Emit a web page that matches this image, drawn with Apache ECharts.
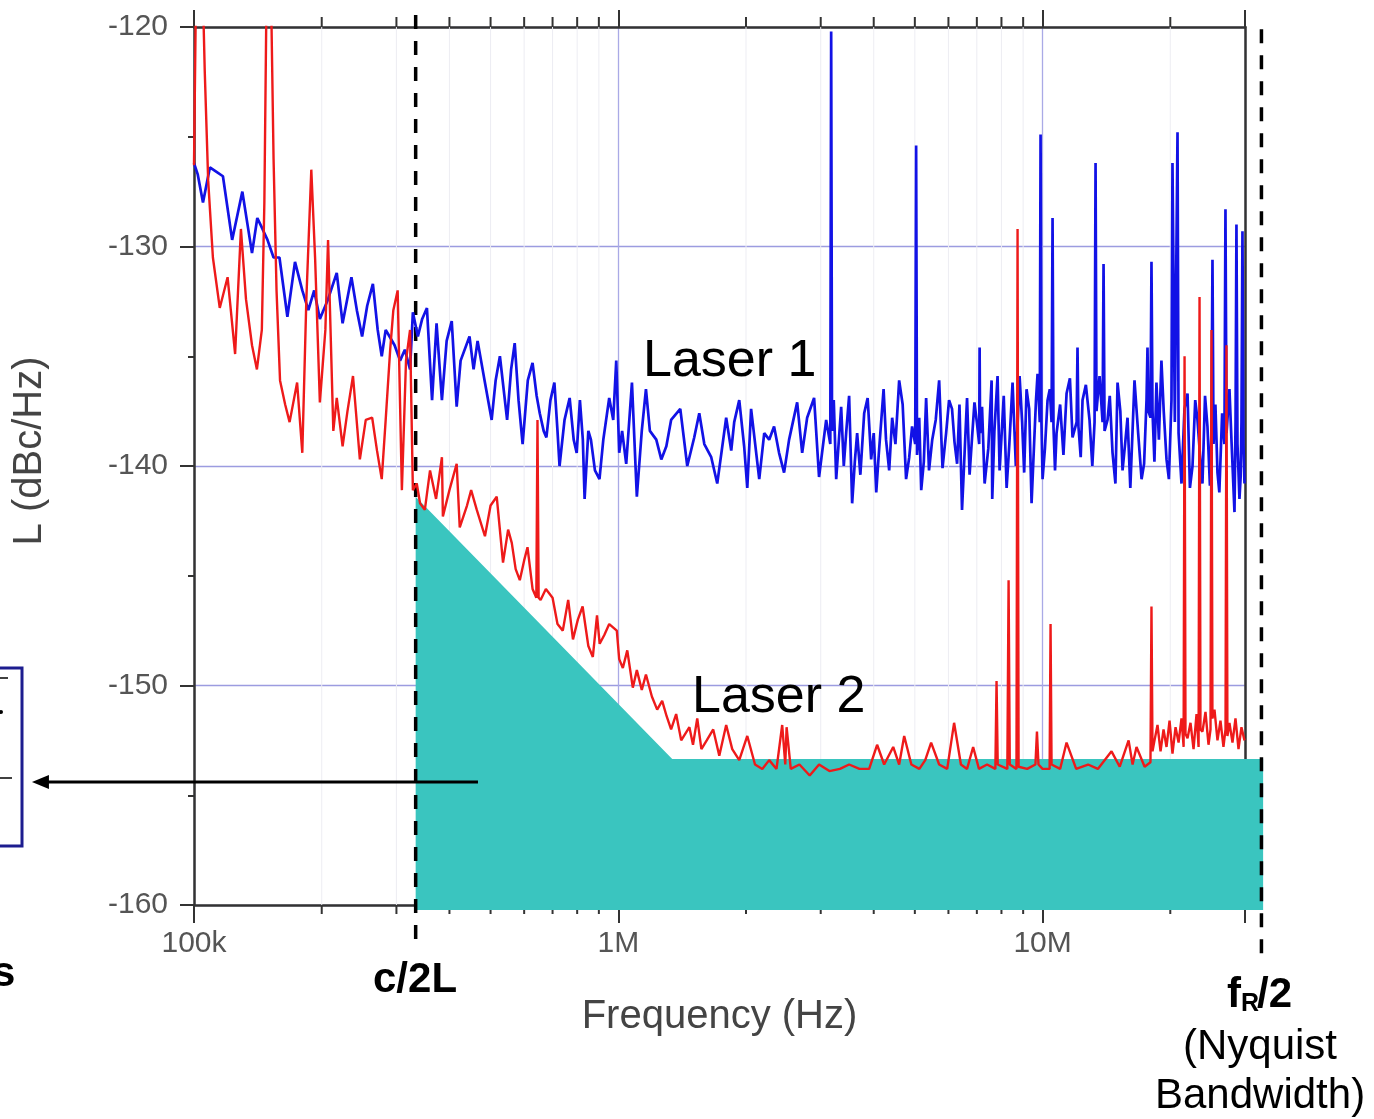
<!DOCTYPE html>
<html>
<head>
<meta charset="utf-8">
<title>Laser phase noise</title>
<script src="https://cdn.jsdelivr.net/npm/echarts@6/dist/echarts.min.js"></script>
<style>
html, body { margin: 0; padding: 0; background: #fff; }
#main { width: 1374px; height: 1119px; }
</style>
</head>
<body>
<div id="main"></div>
<script>
// frequencies in kHz, levels in dBc/Hz
var xTickLabels = { 100: '100k', 1000: '1M', 10000: '10M' };
var xMinorTicks = [200, 300, 400, 500, 600, 700, 800, 900,
    2000, 3000, 4000, 5000, 6000, 7000, 8000, 9000, 20000];

// Laser 1 (blue)
var laser1 = [
    [100,-126.2],[102,-126.7],[105,-128.0],[109,-126.4],[113,-126.6],[117,-126.8],[123,-129.7],[130,-127.5],
    [137,-130.3],[141,-128.7],[145,-129.2],[149,-129.7],[154,-130.5],[159,-130.5],[166,-133.2],[173,-130.7],
    [180,-132.0],[186,-132.9],[192,-132.0],[198,-133.3],[207,-132.4],[217,-131.2],[224,-133.5],[235,-131.4],
    [242,-132.9],[249,-134.1],[256,-132.7],[264,-131.7],[271,-133.8],[277,-135.0],[283,-133.8],[289,-134.1],
    [297,-134.5],[306,-135.2],[314,-134.7],[323,-135.6],[328,-133.0],[337,-134.1],[345,-133.3],[354,-132.8],
    [364,-137.0],[373,-133.5],[384,-137.0],[394,-134.3],[405,-133.4],[416,-137.3],[425,-135.2],[446,-134.1],
    [456,-135.6],[466,-134.3],[484,-136.1],[503,-137.9],[514,-136.1],[526,-135.0],[547,-137.9],[559,-135.6],
    [570,-134.4],[582,-137.0],[595,-139.0],[612,-136.1],[628,-135.3],[642,-136.8],[653,-137.6],[667,-138.4],
    [677,-138.7],[692,-137.0],[707,-136.2],[719,-138.4],[727,-140.0],[747,-137.9],[768,-136.9],[785,-138.8],
    [798,-139.4],[812,-137.0],[825,-138.8],[833,-141.5],[850,-138.4],[862,-138.8],[881,-140.2],[903,-140.6],
    [922,-138.8],[952,-136.9],[973,-137.9],[989,-135.2],[1005,-139.4],[1021,-138.4],[1044,-139.9],[1077,-136.2],
    [1106,-141.4],[1136,-138.4],[1162,-136.5],[1187,-138.4],[1229,-138.8],[1263,-139.7],[1298,-139.1],[1332,-137.9],
    [1400,-137.4],[1454,-140.0],[1510,-138.7],[1552,-137.6],[1595,-139.0],[1656,-139.6],[1711,-140.8],[1796,-137.8],
    [1846,-139.3],[1876,-138.0],[1928,-137.0],[1980,-139.1],[2014,-141.0],[2056,-137.4],[2149,-140.6],[2208,-138.5],
    [2268,-138.8],[2329,-138.2],[2393,-139.4],[2459,-140.3],[2527,-138.8],[2640,-137.1],[2713,-139.4],[2787,-137.8],
    [2894,-136.9],[2973,-140.5],[3090,-137.9],[3160,-139.0],[3175,-120.2],[3190,-138.4],[3220,-137.0],[3263,-140.6],
    [3352,-137.3],[3400,-140.0],[3444,-138.5],[3500,-136.8],[3558,-141.7],[3610,-139.8],[3656,-138.5],[3720,-140.4],
    [3798,-137.6],[3870,-136.9],[3945,-139.7],[4000,-138.5],[4055,-141.2],[4110,-139.5],[4168,-137.9],[4220,-136.5],
    [4276,-138.8],[4350,-140.2],[4421,-137.8],[4500,-139.0],[4592,-136.1],[4680,-137.2],[4768,-140.6],[4850,-139.6],
    [4926,-138.2],[5010,-139.0],[5035,-125.4],[5060,-139.5],[5120,-137.8],[5176,-141.1],[5250,-139.8],[5316,-136.9],
    [5400,-140.2],[5495,-138.8],[5600,-137.9],[5705,-136.1],[5810,-140.1],[5925,-138.5],[6020,-137.0],[6118,-137.4],
    [6200,-138.9],[6289,-139.9],[6370,-137.2],[6459,-142.0],[6550,-139.4],[6638,-136.9],[6730,-140.4],[6821,-138.7],
    [6910,-137.1],[7000,-138.0],[7090,-139.0],[7106,-134.6],[7125,-138.5],[7200,-137.3],[7302,-140.8],[7450,-139.2],
    [7584,-136.1],[7610,-141.5],[7700,-138.4],[7833,-135.9],[7920,-140.2],[8000,-138.7],[8100,-136.8],[8228,-141.0],
    [8350,-139.0],[8497,-136.2],[8650,-140.0],[8828,-135.9],[8950,-138.0],[9050,-140.3],[9168,-136.5],[9300,-137.4],
    [9421,-141.7],[9550,-139.0],[9650,-137.0],[9732,-135.8],[9850,-138.0],[9892,-124.9],[9940,-138.0],[10000,-140.6],
    [10130,-139.2],[10275,-137.0],[10400,-136.5],[10500,-138.0],[10557,-128.7],[10610,-138.2],[10700,-140.2],[10789,-138.5],
    [11000,-137.2],[11200,-139.5],[11391,-136.7],[11600,-136.0],[11766,-138.7],[12030,-138.0],[12088,-134.6],[12150,-138.2],
    [12300,-139.6],[12422,-137.0],[12650,-136.3],[12902,-137.9],[13100,-140.0],[13260,-138.0],[13332,-126.2],[13400,-137.5],
    [13624,-135.9],[13850,-138.0],[13923,-130.8],[14000,-138.4],[14228,-137.9],[14400,-136.8],[14620,-139.4],[14850,-140.8],
    [15022,-136.2],[15250,-137.5],[15435,-140.2],[15650,-139.0],[15858,-137.8],[16100,-141.0],[16470,-136.1],[16800,-138.5],
    [17114,-140.6],[17350,-139.9],[17580,-137.0],[17673,-134.6],[17760,-137.5],[17960,-137.8],[18059,-130.7],[18160,-137.5],
    [18350,-139.8],[18553,-136.2],[18800,-138.8],[19061,-135.2],[19300,-137.5],[19595,-139.7],[19850,-140.6],[20130,-137.0],
    [20239,-126.2],[20500,-138.0],[20800,-124.8],[20920,-138.5],[21255,-140.8],[21600,-137.4],[21962,-136.7],[22250,-141.0],
    [22564,-140.0],[22900,-137.0],[23180,-137.9],[23500,-139.5],[23816,-140.8],[24150,-136.8],[24470,-138.2],[24800,-140.9],
    [25000,-138.5],[25146,-130.6],[25290,-139.0],[25550,-137.2],[25838,-140.3],[26100,-141.2],[26500,-137.6],[26830,-139.0],
    [26982,-128.3],[27140,-138.5],[27572,-136.5],[27900,-139.0],[28336,-142.1],[28500,-138.0],[28640,-129.0],[28800,-139.0],
    [29110,-141.5],[29300,-140.5],[29430,-138.0],[29590,-129.3],[29750,-139.0],[29915,-140.8]
];

// Laser 2 (red)
var laser2 = [
    [100,-126.3],[101,-119],[102.5,-116],[104.5,-117],[106,-122],[108,-127],[110.8,-130.5],[115,-132.8],
    [120,-131.4],[125,-134.9],[129,-129.2],[132.6,-132.4],[137,-134.5],[140.7,-135.6],[144.5,-133.8],[146.5,-128],
    [148.5,-117],[151.5,-117],[154,-126],[156.5,-132],[159.5,-136.1],[164,-137.2],[168,-138.0],[175,-136.2],
    [180,-139.4],[184,-132.4],[189,-126.5],[193,-130.6],[198,-137.1],[204,-133.8],[207,-129.7],[213,-138.4],
    [217,-136.9],[224,-139.1],[230,-137.5],[237,-135.9],[246,-139.7],[254,-137.9],[263,-137.8],[270,-139.3],
    [277,-140.6],[283,-137.9],[290,-134.7],[295,-132.9],[302,-132.0],[309,-141.1],[316,-135.2],[323,-133.8],
    [328,-141.1],[335,-140.8],[341,-141.7],[350,-142.0],[360,-140.2],[372,-141.5],[384,-139.6],[386,-142.3],
    [400,-141.1],[416,-139.9],[423,-142.8],[440,-141.8],[450,-141.1],[464,-142.0],[485,-143.2],[500,-141.8],
    [517,-141.4],[535,-144.4],[550,-142.9],[561,-143.5],[573,-144.7],[586,-145.2],[600,-144.3],[611,-143.7],
    [628,-145.6],[641,-146.0],[645,-137.9],[649,-146.0],[656,-146.1],[675,-145.6],[700,-146.0],[719,-147.2],
    [740,-147.5],[762,-146.1],[782,-147.9],[803,-147.0],[824,-146.4],[850,-148.2],[871,-148.7],[891,-146.8],
    [904,-148.1],[927,-147.7],[952,-147.2],[992,-147.5],[1005,-148.8],[1025,-149.2],[1050,-148.4],[1082,-150.1],
    [1106,-149.3],[1136,-150.2],[1162,-149.5],[1200,-150.5],[1235,-151.1],[1269,-150.7],[1300,-151.4],[1332,-152.0],
    [1369,-151.3],[1407,-152.5],[1471,-151.9],[1500,-152.7],[1535,-151.5],[1570,-152.9],[1616,-152.5],[1674,-152.0],
    [1730,-153.2],[1796,-151.8],[1856,-152.9],[1928,-153.4],[2014,-152.3],[2100,-153.6],[2185,-153.8],[2268,-153.4],
    [2360,-153.8],[2434,-151.8],[2475,-153.6],[2493,-151.9],[2550,-153.8],[2673,-153.6],[2826,-154.1],[2973,-153.6],
    [3145,-153.9],[3330,-153.8],[3500,-153.6],[3702,-153.8],[3902,-153.8],[4074,-152.7],[4233,-153.6],[4446,-152.8],
    [4592,-153.6],[4719,-152.3],[4906,-153.6],[5124,-153.8],[5290,-153.4],[5462,-152.6],[5705,-153.6],[5960,-153.8],
    [6187,-151.7],[6420,-153.6],[6638,-153.8],[6861,-152.8],[7080,-153.8],[7400,-153.6],[7740,-153.8],[7790,-149.8],
    [7840,-153.6],[8260,-153.8],[8316,-145.2],[8370,-153.6],[8680,-153.8],[8731,-129.2],[8780,-153.7],[9200,-153.8],
    [9620,-153.6],[9700,-152.1],[9780,-153.6],[10000,-153.8],[10390,-153.8],[10443,-147.2],[10500,-153.6],[11000,-153.8],
    [11391,-152.6],[12000,-153.8],[12800,-153.6],[13500,-153.8],[14540,-153.0],[15200,-153.7],[15950,-152.5],[16300,-153.6],
    [16650,-152.8],[17400,-153.7],[17960,-153.5],[18059,-146.4],[18160,-153.0],[18360,-152.5],[18660,-151.8],[18970,-153.0],
    [19280,-152.0],[19595,-152.8],[19920,-151.6],[20240,-153.1],[20580,-151.9],[20920,-152.6],[21255,-151.5],[21500,-152.8],
    [21610,-135.0],[21720,-152.2],[21962,-152.4],[22320,-151.7],[22690,-152.9],[23060,-151.3],[23320,-152.8],[23440,-132.3],
    [23560,-152.0],[23816,-152.1],[24210,-151.2],[24610,-152.7],[24880,-152.0],[25010,-133.8],[25140,-151.5],[25420,-151.1],
    [25838,-152.5],[26260,-151.6],[26690,-152.8],[26990,-152.0],[27130,-134.5],[27270,-152.3],[27572,-151.7],[28030,-152.6],
    [28490,-151.5],[28960,-152.9],[29430,-151.9],[29915,-152.5]
];

// shaded floor region (teal)
var shadeBound = [[333, -141.4], [1340, -153.35], [33100, -153.35], [33100, -160.23], [333, -160.23]];

// c/2L and fR/2 markers
var cutoffFreqs = [333, 32800];
var cutoffTop = [-119.45, -120.1];
var cutoffBottom = [-161.8, -162.4];

// arrow pointing out of the chart
var arrowFrom = [467, -154.4];
var arrowTo = [41.5, -154.4];

var FONT = '"Liberation Sans", Arial, Helvetica, sans-serif';

var chart = {};

chart.init = function () {
    var myChart = echarts.init(document.getElementById('main'));
    myChart.setOption(chart.option());
};

chart.text = function (str, x, y, size, weight) {
    return {
        type: 'text',
        z: 100,
        style: {
            text: str,
            x: x,
            y: y,
            fill: '#000',
            font: (weight || 'normal') + ' ' + size + 'px ' + FONT,
            verticalAlign: 'middle'
        }
    };
};

chart.option = function () {
    var axisLine = { show: true, lineStyle: { color: '#333', width: 2.5 } };
    return {
        animation: false,
        backgroundColor: '#fff',
        grid: { left: 194, right: 129, top: 27, bottom: 214, containLabel: false },
        xAxis: [{
            type: 'log',
            logBase: 10,
            min: 100,
            max: 30000,
            position: 'bottom',
            axisLine: axisLine,
            axisTick: { show: true, length: 18, lineStyle: { color: '#333', width: 2 } },
            axisLabel: {
                color: '#555',
                fontSize: 30,
                fontFamily: FONT,
                margin: 24,
                formatter: function (v) { return xTickLabels[Math.round(v)] || ''; }
            },
            splitLine: { show: true, lineStyle: { color: '#aaaae6', width: 1.3 } },
            name: 'Frequency (Hz)',
            nameLocation: 'middle',
            nameGap: 92,
            nameTextStyle: { color: '#444', fontSize: 40, fontFamily: FONT }
        }, {
            type: 'log',
            logBase: 10,
            min: 100,
            max: 30000,
            position: 'top',
            axisLine: axisLine,
            axisTick: { show: true, length: 17, lineStyle: { color: '#333', width: 2 } },
            axisLabel: { show: false },
            splitLine: { show: false }
        }],
        yAxis: [{
            type: 'value',
            min: -160,
            max: -120,
            interval: 10,
            axisLine: axisLine,
            axisTick: { show: true, length: 14, lineStyle: { color: '#333', width: 2 } },
            minorTick: { show: true, splitNumber: 2, length: 6, lineStyle: { color: '#333', width: 2 } },
            axisLabel: { color: '#555', fontSize: 30, fontFamily: FONT, margin: 26 },
            splitLine: { show: true, lineStyle: { color: '#9c9ce0', width: 1.3 } },
            name: 'L (dBc/Hz)',
            nameLocation: 'middle',
            nameGap: 144,
            nameTextStyle: { color: '#444', fontSize: 40, fontFamily: FONT, padding: [0, 0, 0, 30] }
        }, {
            type: 'value',
            min: -160,
            max: -120,
            position: 'right',
            axisLine: axisLine,
            axisTick: { show: false },
            axisLabel: { show: false },
            splitLine: { show: false }
        }],
        series: [{
            // minor decade ticks and faint grid
            type: 'custom',
            silent: true,
            data: xMinorTicks.map(function (f) { return [f, -140]; }),
            encode: { x: 0, y: 1 },
            renderItem: function (params, api) {
                var b = api.coord([api.value(0), -160]);
                var t = api.coord([api.value(0), -120]);
                return {
                    type: 'group',
                    children: [
                        { type: 'line', shape: { x1: b[0], y1: t[1], x2: b[0], y2: b[1] }, style: { stroke: '#ededf3', lineWidth: 1 } },
                        { type: 'line', shape: { x1: b[0], y1: b[1], x2: b[0], y2: b[1] + 9 }, style: { stroke: '#333', lineWidth: 2 } },
                        { type: 'line', shape: { x1: t[0], y1: t[1], x2: t[0], y2: t[1] - 10 }, style: { stroke: '#333', lineWidth: 2 } }
                    ]
                };
            }
        }, {
            name: 'Laser 1',
            type: 'line',
            data: laser1,
            symbol: 'none',
            clip: true,
            lineStyle: { color: '#1212e6', width: 2.7 }
        }, {
            name: 'Laser 2',
            type: 'line',
            data: laser2,
            symbol: 'none',
            clip: true,
            lineStyle: { color: '#ee1a1a', width: 2.4 }
        }, {
            // teal floor
            type: 'custom',
            silent: true,
            clip: false,
            data: shadeBound,
            encode: { x: 0, y: 1 },
            renderItem: function (params, api) {
                if (params.dataIndex !== 0) return null;
                var pts = shadeBound.map(function (p) { return api.coord(p); });
                return { type: 'polygon', shape: { points: pts }, style: { fill: '#3ac5bf' } };
            }
        }, {
            // dashed markers
            type: 'custom',
            silent: true,
            clip: false,
            data: cutoffFreqs.map(function (f, i) { return [f, cutoffTop[i], cutoffBottom[i]]; }),
            encode: { x: 0, y: [1, 2] },
            renderItem: function (params, api) {
                var a = api.coord([api.value(0), api.value(1)]);
                var b = api.coord([api.value(0), api.value(2)]);
                return {
                    type: 'line',
                    shape: { x1: a[0], y1: a[1], x2: b[0], y2: b[1] },
                    style: { stroke: '#000', lineWidth: 3.5, lineDash: [14, 12] }
                };
            }
        }, {
            // arrow
            type: 'custom',
            silent: true,
            clip: false,
            data: [arrowFrom],
            encode: { x: 0, y: 1 },
            renderItem: function (params, api) {
                var a = api.coord(arrowFrom);
                var b = api.coord(arrowTo);
                return {
                    type: 'group',
                    children: [
                        { type: 'line', shape: { x1: a[0], y1: a[1], x2: b[0] + 12, y2: b[1] }, style: { stroke: '#000', lineWidth: 3 } },
                        { type: 'polygon', shape: { points: [[b[0], b[1]], [b[0] + 17, b[1] - 7], [b[0] + 17, b[1] + 7]] }, style: { fill: '#000' } }
                    ]
                };
            }
        }],
        graphic: [
            chart.text('Laser 1', 643, 362, 52),
            chart.text('Laser 2', 692, 698, 52),
            chart.text('c/2L', 373, 980, 42, 'bold'),
            chart.text('f', 1227, 995, 42, 'bold'),
            chart.text('R', 1241, 1004, 25, 'bold'),
            chart.text('/2', 1257, 995, 42, 'bold'),
            chart.text('(Nyquist', 1183, 1047, 42),
            chart.text('Bandwidth)', 1155, 1096, 42),
            chart.text('s', -8, 974, 42, 'bold'),
            {
                type: 'rect',
                z: 100,
                shape: { x: -10, y: 668, width: 32, height: 178 },
                style: { fill: 'none', stroke: '#1c1c8f', lineWidth: 3 }
            },
            { type: 'line', z: 100, shape: { x1: 0, y1: 678, x2: 8, y2: 678 }, style: { stroke: '#000', lineWidth: 1.5 } },
            { type: 'circle', z: 100, shape: { cx: 1, cy: 712, r: 2 }, style: { fill: '#000' } },
            { type: 'line', z: 100, shape: { x1: 0, y1: 778, x2: 12, y2: 778 }, style: { stroke: '#000', lineWidth: 1.5 } }
        ]
    };
};

chart.init();
</script>
</body>
</html>
